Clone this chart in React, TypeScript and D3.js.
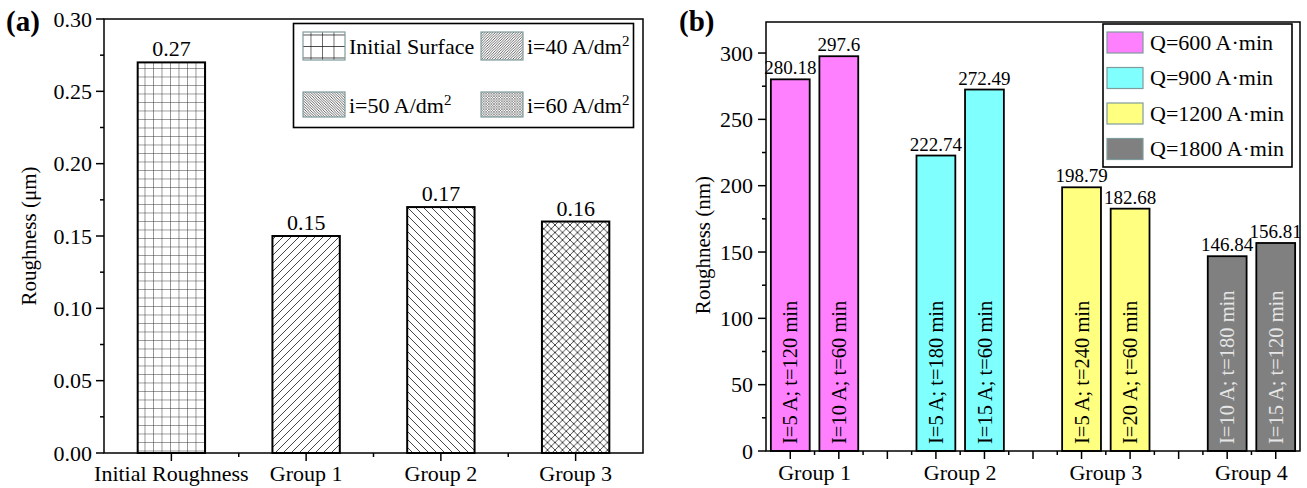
import React from "react";
import * as d3 from "d3";

// ---------- Panel (a): roughness by current density ----------
const categoriesA = ["Initial Roughness", "Group 1", "Group 2", "Group 3"];
const roughnessA = [0.27, 0.15, 0.17, 0.16];
const patternIdsA = ["grid", "fwd", "back", "cross"];
const legendA = [
  { text: "Initial Surface", sup: "" },
  { text: "i=40 A/dm", sup: "2" },
  { text: "i=50 A/dm", sup: "2" },
  { text: "i=60 A/dm", sup: "2" },
];
const ticksA = [0, 0.05, 0.1, 0.15, 0.2, 0.25, 0.3];

// ---------- Panel (b): roughness by charge ----------
const groupsB = ["Group 1", "Group 2", "Group 3", "Group 4"];
const positionsB = [1, 2, 4, 5, 7, 8, 10, 11];
const groupOfBar = [0, 0, 1, 1, 2, 2, 3, 3];
const roughnessB = [280.18, 297.6, 222.74, 272.49, 198.79, 182.68, 146.84, 156.81];
const conditionsB = [
  "I=5 A; t=120 min",
  "I=10 A; t=60 min",
  "I=5 A; t=180 min",
  "I=15 A; t=60 min",
  "I=5 A; t=240 min",
  "I=20 A; t=60 min",
  "I=10 A; t=180 min",
  "I=15 A; t=120 min",
];
const chargeLabels = ["Q=600 A·min", "Q=900 A·min", "Q=1200 A·min", "Q=1800 A·min"];
const chargeColors = ["#ff80ff", "#80ffff", "#ffff80", "#808080"];
const ticksB = [0, 50, 100, 150, 200, 250, 300];

const FONT = "'Liberation Serif', 'Times New Roman', serif";

function Hatch({ id, size, kind, stroke, sw }: { id: string; size: number; kind: string; stroke: string; sw: number }) {
  const s = size;
  const fwd = `M0,${s} L${s},0 M${-s / 4},${s / 4} L${s / 4},${-s / 4} M${(3 * s) / 4},${(5 * s) / 4} L${(5 * s) / 4},${(3 * s) / 4}`;
  const back = `M0,0 L${s},${s} M${-s / 4},${(3 * s) / 4} L${s / 4},${(5 * s) / 4} M${(3 * s) / 4},${-s / 4} L${(5 * s) / 4},${s / 4}`;
  let d = "";
  if (kind === "grid") d = `M0,0 L${s},0 M0,0 L0,${s}`;
  else if (kind === "fwd") d = fwd;
  else if (kind === "back") d = back;
  else d = fwd + " " + back;
  return (
    <pattern id={id} patternUnits="userSpaceOnUse" width={s} height={s}>
      <rect width={s} height={s} fill="#fff" />
      <path d={d} stroke={stroke} strokeWidth={sw} fill="none" />
    </pattern>
  );
}

export default function App() {
  const W = 1307;
  const H = 488;

  // scales, panel a
  const xA = d3.scaleBand<string>().domain(categoriesA).range([104, 643]).padding(0);
  const yA = d3.scaleLinear().domain([0, 0.3]).range([453, 19]);
  const barWA = xA.bandwidth() * 0.5;
  const minorYA = d3.range(0.025, 0.3, 0.05);
  const minorXA = categoriesA.slice(1).map((c) => xA(c)!);

  // scales, panel b
  const xB = d3.scaleLinear().domain([0.5, 11.5]).range([766, 1300]);
  const yB = d3.scaleLinear().domain([0, 323.4]).range([451, 22]);
  const barWB = xB(1.8) - xB(1);
  const minorYB = d3.range(25, 323, 50);
  const majorXB = d3.range(1, 12, 1);
  const minorXB = d3.range(1.5, 11, 1);

  const tickFont = 22;
  const legendIdsA = ["lgrid", "lfwd", "lback", "lcross"];

  return (
    <div style={{ position: "fixed", left: 0, top: 0 }}>
      <svg width={W} height={H} style={{ display: "block", background: "#fff" }} fontFamily={FONT}>
        <defs>
          <Hatch id="grid" size={8.5} kind="grid" stroke="#333" sw={1} />
          <Hatch id="fwd" size={8} kind="fwd" stroke="#333" sw={0.9} />
          <Hatch id="back" size={8} kind="back" stroke="#333" sw={0.9} />
          <Hatch id="cross" size={7.5} kind="cross" stroke="#333" sw={0.9} />
          <Hatch id="lgrid" size={11.5} kind="grid" stroke="#111" sw={1.2} />
          <Hatch id="lfwd" size={2.6} kind="fwd" stroke="#444" sw={0.8} />
          <Hatch id="lback" size={2.6} kind="back" stroke="#444" sw={0.8} />
          <Hatch id="lcross" size={2.6} kind="cross" stroke="#666" sw={0.6} />
        </defs>

        {/* ================= Panel (a) ================= */}
        <text x={6} y={31} fontSize={29} fontWeight="bold">(a)</text>

        {categoriesA.map((c, i) => {
          const x0 = xA(c)! + (xA.bandwidth() - barWA) / 2;
          return (
            <g key={c}>
              <rect x={x0} y={yA(roughnessA[i])} width={barWA} height={yA(0) - yA(roughnessA[i])}
                fill={`url(#${patternIdsA[i]})`} stroke="#000" strokeWidth={2} />
              <text x={x0 + barWA / 2} y={yA(roughnessA[i]) - 6} fontSize={22} textAnchor="middle">
                {roughnessA[i].toFixed(2)}
              </text>
            </g>
          );
        })}

        {/* frame */}
        <rect x={104} y={19} width={539} height={434} fill="none" stroke="#000" strokeWidth={1.5} />

        {/* y axis a */}
        {ticksA.map((t) => (
          <g key={t}>
            <line x1={96} x2={104} y1={yA(t)} y2={yA(t)} stroke="#000" strokeWidth={1.5} />
            <text x={92} y={yA(t)} dy="0.35em" fontSize={tickFont} textAnchor="end">{t.toFixed(2)}</text>
          </g>
        ))}
        {minorYA.map((t) => (
          <line key={t} x1={100} x2={104} y1={yA(t)} y2={yA(t)} stroke="#000" strokeWidth={1.5} />
        ))}
        <text transform={`translate(29,236) rotate(-90)`} fontSize={21} textAnchor="middle" dy="0.35em">
          Roughness (μm)
        </text>

        {/* x axis a */}
        {categoriesA.map((c) => {
          const cx = xA(c)! + xA.bandwidth() / 2;
          return (
            <g key={c}>
              <line x1={cx} x2={cx} y1={453} y2={461} stroke="#000" strokeWidth={1.5} />
              <text x={cx} y={481} fontSize={tickFont} textAnchor="middle">{c}</text>
            </g>
          );
        })}
        {minorXA.map((x) => (
          <line key={x} x1={x} x2={x} y1={453} y2={457} stroke="#000" strokeWidth={1.5} />
        ))}

        {/* legend a */}
        <rect x={293.5} y={23.5} width={340} height={104} fill="#fff" stroke="#000" strokeWidth={1.6} />
        {legendA.map((l, i) => {
          const col = i % 2;
          const row = Math.floor(i / 2);
          const sx = col === 0 ? 303 : 481;
          const sy = row === 0 ? 32 : 92;
          return (
            <g key={l.text}>
              <rect x={sx} y={sy} width={42} height={row === 0 ? 28 : 25} fill={`url(#${legendIdsA[i]})`}
                stroke="#7f9c9c" strokeWidth={1.2} />
              <text x={sx + 46} y={row === 0 ? 54 : 113} fontSize={22}>
                {l.text}
                {l.sup && <tspan fontSize={15} dy={-8}>{l.sup}</tspan>}
              </text>
            </g>
          );
        })}

        {/* ================= Panel (b) ================= */}
        <text x={679} y={31} fontSize={29} fontWeight="bold">(b)</text>

        {positionsB.map((p, i) => {
          const g = groupOfBar[i];
          const cx = xB(p);
          const top = yB(roughnessB[i]);
          return (
            <g key={i}>
              <rect x={cx - barWB / 2} y={top} width={barWB} height={yB(0) - top}
                fill={chargeColors[g]} stroke="#000" strokeWidth={1.8} />
              <text x={cx} y={top - 5} fontSize={19} textAnchor="middle">{String(roughnessB[i])}</text>
              <text transform={`translate(${cx},${yB(0) - 7}) rotate(-90)`} fontSize={20.5} dy="0.35em"
                fill={g === 3 ? "#e6e6e6" : "#000"}>
                {conditionsB[i]}
              </text>
            </g>
          );
        })}

        <rect x={766} y={22} width={534} height={429} fill="none" stroke="#000" strokeWidth={1.5} />

        {/* y axis b */}
        {ticksB.map((t) => (
          <g key={t}>
            <line x1={758} x2={766} y1={yB(t)} y2={yB(t)} stroke="#000" strokeWidth={1.5} />
            <text x={753} y={yB(t)} dy="0.35em" fontSize={tickFont} textAnchor="end">{t}</text>
          </g>
        ))}
        {minorYB.map((t) => (
          <line key={t} x1={762} x2={766} y1={yB(t)} y2={yB(t)} stroke="#000" strokeWidth={1.5} />
        ))}
        <text transform={`translate(703,245) rotate(-90)`} fontSize={21} textAnchor="middle" dy="0.35em">
          Roughness (nm)
        </text>

        {/* x axis b */}
        {majorXB.map((p) => (
          <line key={p} x1={xB(p)} x2={xB(p)} y1={451} y2={459} stroke="#000" strokeWidth={1.5} />
        ))}
        {minorXB.map((p) => (
          <line key={p} x1={xB(p)} x2={xB(p)} y1={451} y2={455} stroke="#000" strokeWidth={1.5} />
        ))}
        {groupsB.map((g, gi) => {
          const ps = positionsB.filter((_, i) => groupOfBar[i] === gi);
          return (
            <text key={g} x={xB(d3.mean(ps)!)} y={480} fontSize={tickFont} textAnchor="middle">{g}</text>
          );
        })}

        {/* legend b */}
        <rect x={1103} y={24} width={189} height={143} fill="#fff" stroke="#000" strokeWidth={1.6} />
        {chargeLabels.map((l, i) => {
          const sy = 32 + i * 35.5;
          return (
            <g key={l}>
              <rect x={1107} y={sy} width={36} height={21} fill={chargeColors[i]} stroke="#7f9c9c" strokeWidth={1.2} />
              <text x={1150} y={sy + 17.5} fontSize={22}>{l}</text>
            </g>
          );
        })}
      </svg>
    </div>
  );
}
